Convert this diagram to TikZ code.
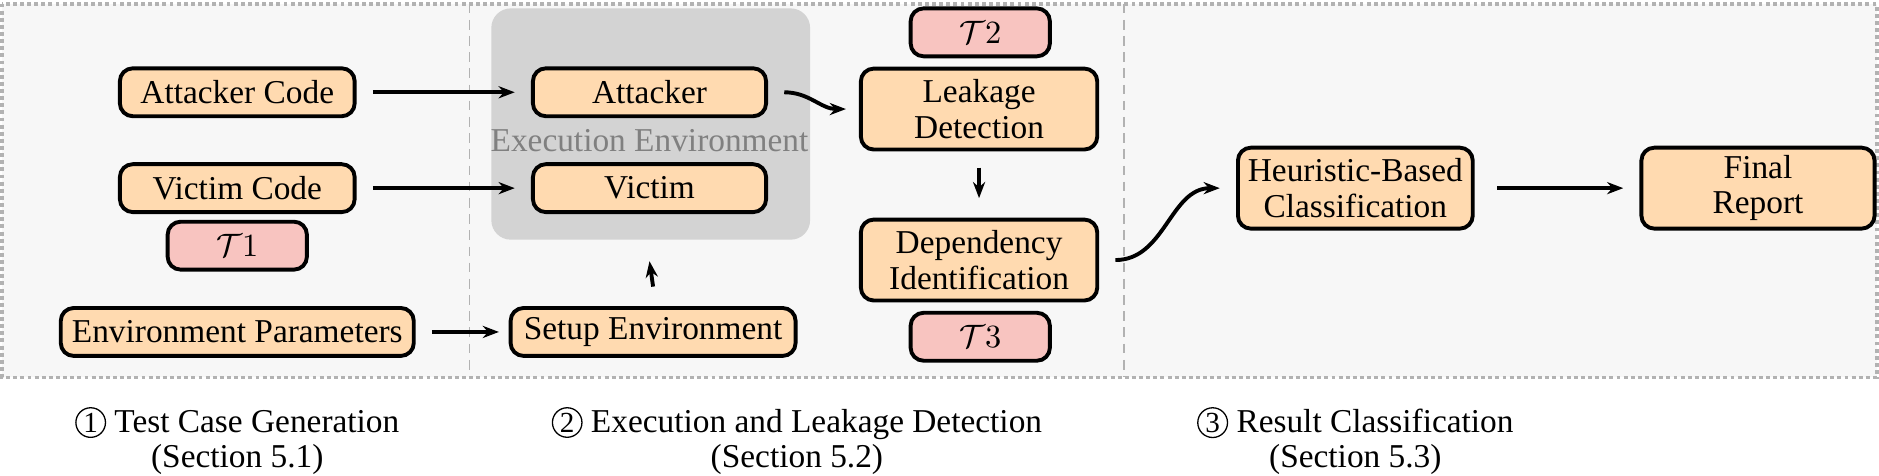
\documentclass[tikz,border=0pt]{standalone}
\usepackage{fontspec}
\setmainfont{Liberation Serif}
\usepackage{amsmath}
\usetikzlibrary{arrows.meta}
\definecolor{boxfill}{HTML}{FFDAB0}
\definecolor{tagfill}{HTML}{F8C4C0}
\definecolor{bgfill}{HTML}{F7F7F7}
\definecolor{envfill}{HTML}{D3D3D3}
\newcommand{\circnum}[1]{\tikz[baseline=(c.base)]\node[circle,draw,inner sep=0.6pt,font=\small] (c) {#1};}
\tikzset{
  stage/.style={draw,line width=1.2pt,rounded corners=4pt,fill=boxfill,align=center,inner sep=1pt,minimum height=14.8pt},
  tag/.style={draw,line width=1.2pt,rounded corners=4pt,fill=tagfill,minimum width=43pt,minimum height=14.8pt},
  flow/.style={-{Stealth[length=5pt]},line width=1.2pt}
}
\begin{document}
\begin{tikzpicture}[x=0.37pt,y=-0.37pt,font=\fontsize{10.3}{11}\selectfont]
    \useasboundingbox (0,0) rectangle (1568,397);
    % phase areas
    \fill[bgfill] (2,3) rectangle (1566,315);
    \draw[gray!60,densely dotted,line width=1.2pt] (2,3) rectangle (1566,315);
    \draw[gray!60,densely dashed] (392,3) -- (392,315);
    \draw[gray!60,densely dashed] (938,3) -- (938,315);
    \fill[envfill,rounded corners=6pt] (410,7) rectangle (676,200);
    \node[text=gray] (envlabel) at (542,117) {Execution Environment};
    % phase 1
    \node[stage,minimum width=72.5pt] (attcode) at (198,77) {Attacker Code};
    \node[stage,minimum width=72.5pt] (viccode) at (198,157) {Victim Code};
    \node[tag] (t1) at (198,205) {$\mathcal{T}1$};
    \node[stage,minimum width=109pt] (envparam) at (198,277) {Environment Parameters};
    % phase 2
    \node[stage,minimum width=72pt] (attacker) at (542,77) {Attacker};
    \node[stage,minimum width=72pt] (victim) at (542,157) {Victim};
    \node[stage,minimum width=88pt] (setup) at (545,277) {Setup Environment};
    \node[tag] (t2) at (818,27) {$\mathcal{T}2$};
    \node[stage,minimum width=73pt,minimum height=25pt] (leak) at (817,91) {Leakage\\Detection};
    \node[stage,minimum width=73pt,minimum height=25pt] (dep) at (817,217) {Dependency\\Identification};
    \node[tag] (t3) at (818,281) {$\mathcal{T}3$};
    % phase 3
    \node[stage,minimum width=72.5pt,minimum height=25pt] (heur) at (1131,157) {Heuristic-Based\\Classification};
    \node[stage,minimum width=72pt,minimum height=25pt] (report) at (1467,157) {Final\\Report};
    % connectors
    \coordinate (envtop) at (542,218);
    \draw[flow] ([xshift=5pt]attcode.east) -- ([xshift=-5pt]attacker.west);
    \draw[flow] ([xshift=5pt]viccode.east) -- ([xshift=-5pt]victim.west);
    \draw[flow] ([xshift=5pt]envparam.east) -- ([xshift=-3pt]setup.west);
    \draw[flow] ([yshift=6pt]setup.north) -- (envtop);
    \draw[flow] ([xshift=5pt]attacker.east) to[out=0,in=180] ([xshift=-4pt]leak.west);
    \draw[flow] ([yshift=-5pt]leak.south) -- ([yshift=6pt]dep.north);
    \draw[flow] ([xshift=5pt]dep.east) to[out=0,in=180] ([xshift=-5pt]heur.west);
    \draw[flow] ([xshift=7pt]heur.east) -- ([xshift=-5pt]report.west);
    % phase captions
    \node[align=center] (cap1) at (198,368) {\circnum{1} Test Case Generation\\(Section 5.1)};
    \node[align=center] (cap2) at (665,368) {\circnum{2} Execution and Leakage Detection\\(Section 5.2)};
    \node[align=center] (cap3) at (1131,368) {\circnum{3} Result Classification\\(Section 5.3)};
\end{tikzpicture}
\end{document}
